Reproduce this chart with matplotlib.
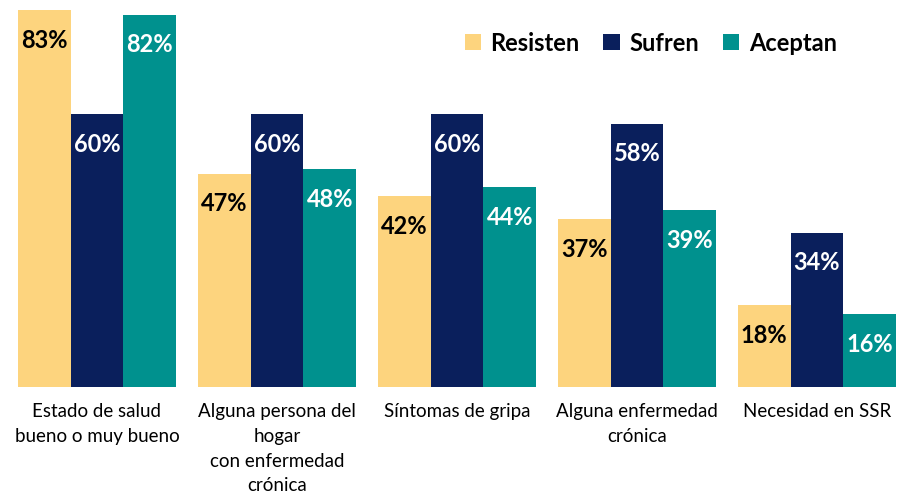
import matplotlib
matplotlib.use("Agg")
import matplotlib.pyplot as plt
import numpy as np

categories = [
    "Estado de salud\nbueno o muy bueno",
    "Alguna persona del\nhogar\ncon enfermedad\ncrónica",
    "Síntomas de gripa",
    "Alguna enfermedad\ncrónica",
    "Necesidad en SSR",
]
series_names = ["Resisten", "Sufren", "Aceptan"]
resisten = [83, 47, 42, 37, 18]
sufren = [60, 60, 60, 58, 34]
aceptan = [82, 48, 44, 39, 16]

colors = ["#FDD47E", "#0A1F5C", "#00918E"]
label_colors = ["black", "white", "white"]

plt.rcParams["font.family"] = ["Lato", "DejaVu Sans"]

fig = plt.figure(figsize=(8.98, 5.02), dpi=100)
ax = fig.add_axes([7 / 898, 114 / 502, 891 / 898, 377 / 502])

x = np.arange(len(categories))
width = 0.294
for i, (name, vals) in enumerate(zip(series_names, [resisten, sufren, aceptan])):
    offset = (i - 1) * width
    bars = ax.bar(x + offset, vals, width, color=colors[i], label=name)
    for b, v in zip(bars, vals):
        ax.annotate(f"{v}%", (b.get_x() + b.get_width() / 2, v),
                    xytext=(0, -21), textcoords="offset points",
                    ha="center", va="center", fontsize=17, fontweight="bold",
                    color=label_colors[i])

ax.set_xlim(-0.5, 4.45)
ax.set_ylim(0, 83)
ax.set_xticks(x)
ax.set_xticklabels(categories, fontsize=13.5, linespacing=1.55, va="top")
ax.tick_params(axis="x", length=0, pad=11)
ax.set_yticks([])
for s in ax.spines.values():
    s.set_visible(False)

leg = ax.legend(loc="upper right", bbox_to_anchor=(0.955, 1.0), ncol=3,
                frameon=False, prop={"size": 17, "weight": "bold"},
                handlelength=0.7, handleheight=0.7, handletextpad=0.4,
                columnspacing=1.0)

fig.savefig("out.png", dpi=100)
